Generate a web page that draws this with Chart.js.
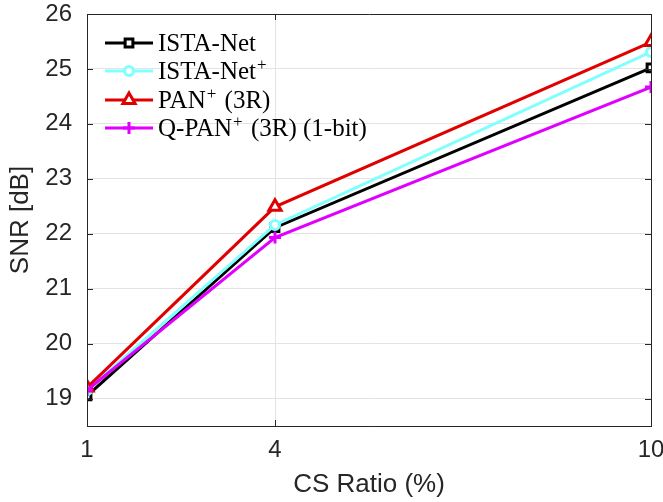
<!DOCTYPE html>
<html>
<head>
<meta charset="utf-8">
<script src="https://cdn.jsdelivr.net/npm/chart.js@4.4.0/dist/chart.umd.min.js"></script>
<style>
  html, body { margin: 0; padding: 0; background: #fff; }
  #wrap { width: 663px; height: 502px; }
</style>
</head>
<body>
<div id="wrap"><canvas id="snrChart" width="663" height="502"></canvas></div>
<script>
// --- data ---
const csRatio = [1, 4, 10];
const xTicks = [1, 4, 10];
const yTicks = [19, 20, 21, 22, 23, 24, 25, 26];

const istaNet     = [19.05, 22.11, 25.02];
const istaNetPlus = [19.15, 22.16, 25.31];
const panPlus     = [19.20, 22.49, 25.49];
const qPanPlus    = [19.15, 21.93, 24.67];

// label text, "^+" marks a superscript plus
const seriesLabels = ['ISTA-Net', 'ISTA-Net^+', 'PAN^+ (3R)', 'Q-PAN^+ (3R) (1-bit)'];

const AXIS_COLOR = '#262626';
const GRID_COLOR = '#e3e3e3';

const toPoints = (vals) => vals.map((v, i) => ({ x: csRatio[i], y: v }));

const makeSet = (label, vals, color, style, radius, order) => ({
    label: label,
    data: toPoints(vals),
    borderColor: color,
    backgroundColor: '#ffffff',
    borderWidth: 3,
    pointStyle: style,
    pointRadius: radius,
    pointBorderWidth: 3,
    pointBorderColor: color,
    pointBackgroundColor: '#ffffff',
    tension: 0,
    fill: false,
    order: order
});

const datasets = [
    makeSet(seriesLabels[0], istaNet, '#000000', 'rect', 5.5, 3),
    makeSet(seriesLabels[1], istaNetPlus, '#80ffff', 'circle', 4.5, 2),
    makeSet(seriesLabels[2], panPlus, '#e00000', 'triangle', 7, 1),
    makeSet(seriesLabels[3], qPanPlus, '#e000ff', 'cross', 6, 0)
];

// box, inward tick marks and the legend drawn on top
const matlabAxes = {
    id: 'matlabAxes',
    afterDraw(chart) {
        const ctx = chart.ctx;
        const area = chart.chartArea;
        const xs = chart.scales.x, ys = chart.scales.y;
        const tickLen = 6;
        ctx.save();
        ctx.strokeStyle = AXIS_COLOR;
        ctx.lineWidth = 1;
        ctx.beginPath();
        ctx.rect(area.left + 0.5, area.top + 0.5, area.right - area.left, area.bottom - area.top);
        ys.ticks.forEach(t => {
            const y = Math.round(ys.getPixelForValue(t.value)) + 0.5;
            ctx.moveTo(area.left, y); ctx.lineTo(area.left + tickLen, y);
            ctx.moveTo(area.right, y); ctx.lineTo(area.right - tickLen, y);
        });
        xs.ticks.forEach(t => {
            const x = Math.round(xs.getPixelForValue(t.value)) + 0.5;
            ctx.moveTo(x, area.bottom); ctx.lineTo(x, area.bottom - tickLen);
            ctx.moveTo(x, area.top); ctx.lineTo(x, area.top + tickLen);
        });
        ctx.stroke();

        // legend (no frame, transparent like the original)
        const lx0 = 105, lx1 = 153, tx = 158;
        const rowY = [43, 71, 100, 128];
        const font = '25px "Liberation Serif", "DejaVu Serif", serif';
        const supFont = '17px "Liberation Serif", "DejaVu Serif", serif';
        chart.data.datasets.forEach((ds, i) => {
            const y = rowY[i];
            ctx.strokeStyle = ds.borderColor;
            ctx.lineWidth = ds.borderWidth;
            ctx.beginPath();
            ctx.moveTo(lx0, y); ctx.lineTo(lx1, y);
            ctx.stroke();
            ctx.fillStyle = ds.pointBackgroundColor;
            ctx.strokeStyle = ds.pointBorderColor;
            ctx.lineWidth = ds.pointBorderWidth;
            Chart.helpers.drawPoint(ctx, {
                pointStyle: ds.pointStyle,
                radius: ds.pointRadius,
                borderWidth: ds.pointBorderWidth,
                rotation: 0
            }, (lx0 + lx1) / 2, y);

            // text with superscript plus
            ctx.fillStyle = '#000000';
            ctx.textBaseline = 'alphabetic';
            ctx.textAlign = 'left';
            const base = y + 8;
            const parts = ds.label.split('^+');
            let x = tx;
            ctx.font = font;
            ctx.fillText(parts[0], x, base);
            x += ctx.measureText(parts[0]).width;
            if (parts.length > 1) {
                ctx.font = supFont;
                ctx.fillText('+', x + 1, base - 9);
                x += ctx.measureText('+').width + 3;
                ctx.font = font;
                ctx.fillText(parts[1], x, base);
            }
        });
        ctx.restore();
    }
};

new Chart(document.getElementById('snrChart'), {
    type: 'line',
    data: { datasets: datasets },
    plugins: [matlabAxes],
    options: {
        responsive: false,
        animation: false,
        layout: { padding: { top: 14, right: 12, left: 0, bottom: 0 } },
        plugins: {
            legend: { display: false },
            tooltip: { enabled: false }
        },
        scales: {
            x: {
                type: 'linear',
                min: 1,
                max: 10,
                afterBuildTicks: (scale) => { scale.ticks = xTicks.map(v => ({ value: v })); },
                afterFit: (scale) => {
                    scale.height = 76;
                    scale.paddingLeft = 0;
                    scale.paddingRight = 0;
                },
                grid: { color: GRID_COLOR, drawTicks: false },
                border: { display: true, color: AXIS_COLOR, width: 1 },
                ticks: {
                    padding: 10,
                    color: AXIS_COLOR,
                    font: { family: '"Liberation Sans", Arial, sans-serif', size: 24 },
                    maxRotation: 0
                },
                title: {
                    display: true,
                    text: 'CS Ratio (%)',
                    color: AXIS_COLOR,
                    font: { family: '"Liberation Sans", Arial, sans-serif', size: 26 },
                    padding: { top: 0, bottom: 2 }
                }
            },
            y: {
                type: 'linear',
                min: 18.5,
                max: 26,
                afterBuildTicks: (scale) => { scale.ticks = yTicks.map(v => ({ value: v })); },
                afterFit: (scale) => {
                    scale.width = 87;
                    scale.paddingTop = 0;
                    scale.paddingBottom = 0;
                },
                grid: { color: GRID_COLOR, drawTicks: false },
                border: { display: true, color: AXIS_COLOR, width: 1 },
                ticks: {
                    padding: 15,
                    color: AXIS_COLOR,
                    font: { family: '"Liberation Sans", Arial, sans-serif', size: 24 }
                },
                title: {
                    display: true,
                    text: 'SNR [dB]',
                    color: AXIS_COLOR,
                    font: { family: '"Liberation Sans", Arial, sans-serif', size: 26 },
                    padding: { top: 5, bottom: 0 }
                }
            }
        }
    }
});
</script>
</body>
</html>
